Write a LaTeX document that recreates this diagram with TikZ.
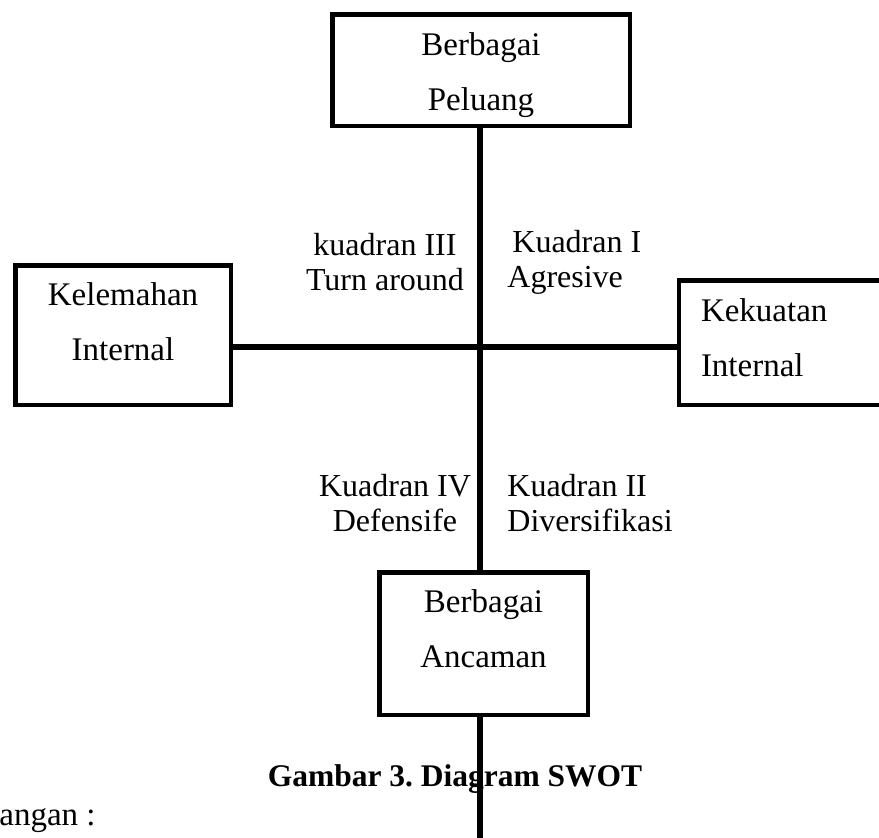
\documentclass[tikz,border=0pt]{standalone}
\usepackage{fontspec}
\setmainfont{Liberation Serif}
\usetikzlibrary{backgrounds}
\frenchspacing

\tikzset{
  kotak/.style={draw, line width=2.25pt, fill=white, inner sep=0pt, outer sep=0pt,
    align=center, font=\fontsize{16.5}{27.5}\selectfont},
  kuadran/.style={inner sep=0pt, font=\fontsize{16}{17.5}\selectfont},
  garis/.style={line width=3pt}
}
\newcommand{\turun}[1]{\rule[-#1]{0pt}{0pt}}
\newcommand{\naik}[1]{\rule{0pt}{#1}}

\begin{document}
\begin{tikzpicture}[x=0.5pt, y=-0.5pt]
\clip (0,0) rectangle (879,837);
\coordinate (pusat) at (480,347);
\coordinate (ujung) at (480,850);
%
\node [kotak, minimum width=148.75pt, minimum height=55.75pt] (peluang) at (481,70) {\naik{16.5pt}Berbagai\\Peluang};
\node [kotak, minimum width=107.75pt, minimum height=69.75pt] (kelemahan) at (123,335) {Kelemahan\\Internal\turun{13.5pt}};
\node [kotak, anchor=west, align=left, text width=88pt, inner xsep=11pt, minimum height=62.25pt] (kekuatan) at (679,342.5) {Kekuatan\\Internal\turun{5pt}};
\node [kotak, minimum width=104.25pt, minimum height=71.25pt] (ancaman) at (483.5,643.5) {Berbagai\\Ancaman\turun{15pt}};
%
\node [kuadran, align=center] (k3) at (385,262.5) {kuadran III\\Turn around};
\node [kuadran, align=left, anchor=west] (k1) at (507,262.5) {\hspace{2.5pt}Kuadran I\\Agresive};
\node [kuadran, align=center] (k4) at (395,503.5) {Kuadran IV\\Defensife};
\node [kuadran, align=left, anchor=west] (k2) at (507,503.5) {Kuadran II\\Diversifikasi};
%
\begin{scope}[on background layer]
\node [anchor=base, font=\bfseries\fontsize{15.75}{20}\selectfont] (judul) at (455,786) {Gambar 3. Diagram SWOT};
\node [anchor=base west, inner sep=0pt, font=\fontsize{16.5}{20}\selectfont] (ket) at (-1,825) {angan :};
\draw [garis] (pusat |- peluang.south) -- (ujung);
\draw [garis] (kelemahan.east |- pusat) -- (kekuatan.west |- pusat);
\end{scope}
%
\end{tikzpicture}
\end{document}
